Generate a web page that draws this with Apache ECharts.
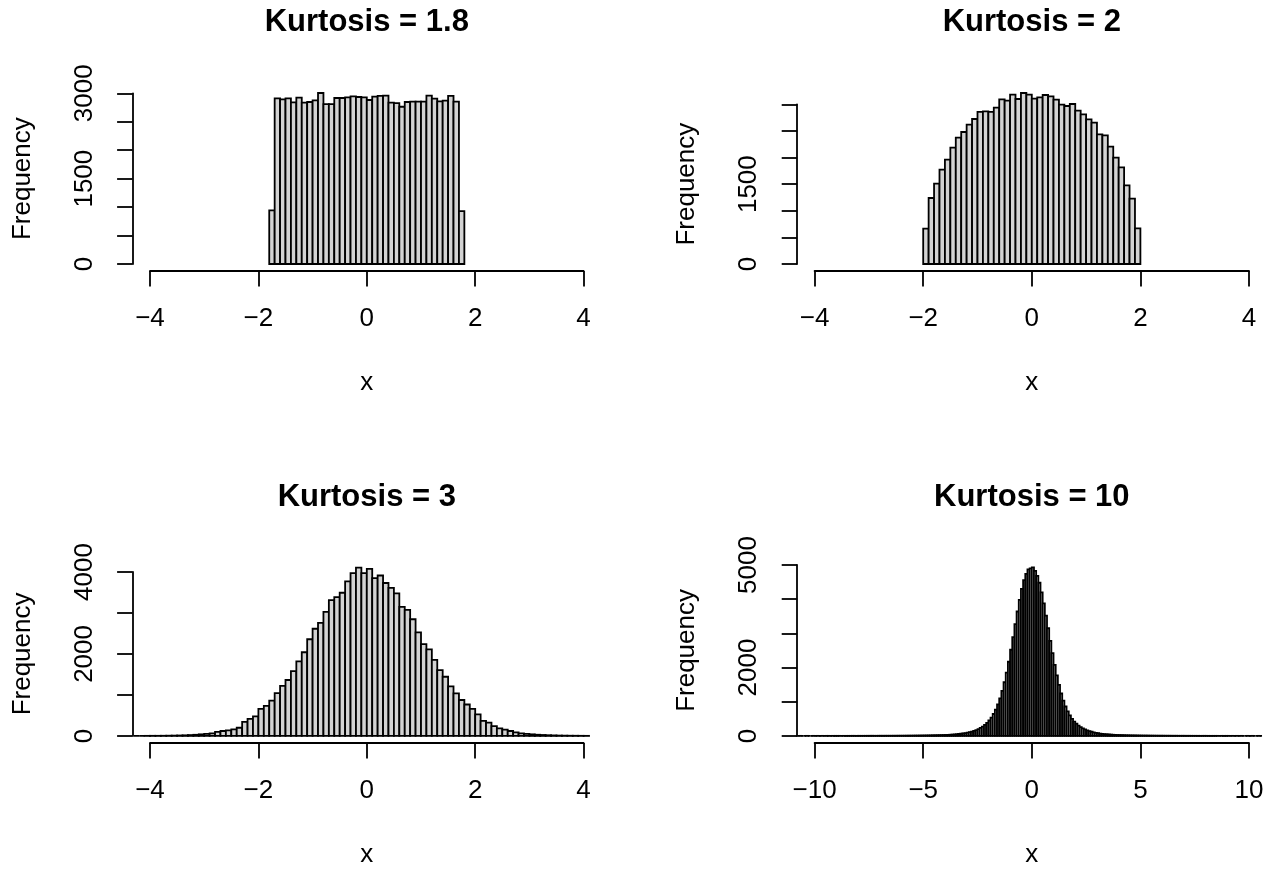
<!DOCTYPE html>
<html><head><meta charset="utf-8">
<script src="https://cdn.jsdelivr.net/npm/echarts@6/dist/echarts.min.js"></script>
<style>html,body{margin:0;padding:0;background:#fff}#c{width:1271px;height:869px}</style>
</head><body><div id="c"></div>
<script>
// ---------------- data ----------------
const titles = ['Kurtosis = 1.8', 'Kurtosis = 2', 'Kurtosis = 3', 'Kurtosis = 10'];
const binWidth = 0.1;

const p1Start = -1.8;
const p1Counts = [941, 2911, 2894, 2911, 2841, 2923, 2835, 2847, 2876, 3005, 2811, 2811, 2917, 2917, 2929, 2947, 2935, 2929,
  2882, 2941, 2953, 2958, 2835, 2829, 2764, 2847, 2852, 2852, 2852, 2958, 2905, 2858, 2870, 2953, 2852, 929];

const p2Start = -2.0;
const p2Counts = [663, 1240, 1509, 1772, 1959, 2185, 2373, 2480, 2617, 2724, 2856, 2867, 2856, 2936, 3092, 3068, 3180, 3100, 3212, 3180,
  3105, 3130, 3175, 3149, 3087, 2993, 2968, 3006, 2880, 2811, 2717, 2655, 2435, 2416, 2204, 1997, 1815, 1477, 1227, 669];

const p3Start = -4.3;
const p3Counts = [0, 0, 1, 2, 2, 3, 5, 7, 10, 14, 20, 27, 38, 48, 62, 96, 120, 134, 158, 199, 342, 414, 478, 660, 732, 861, 1043, 1220,
  1364, 1579, 1818, 2041, 2359, 2615, 2758, 3029, 3316, 3388, 3493, 3771, 3971, 4105, 3971,
  4074, 3852, 3914, 3732, 3612, 3476, 3148, 3077, 2847, 2526, 2239, 2112, 1856, 1603, 1443, 1210, 1036, 876, 766, 660, 526, 366, 325,
  239, 182, 151, 120, 86, 62, 48, 38, 28, 22, 16, 12, 8, 6, 4, 3, 2, 1];

const p4Start = -10.8;
const p4Counts = [
  0, 1, 0, 0, 1, 0, 0, 1,
  0, 1, 0, 1, 0, 1, 1, 0, 1, 1,
  1, 1, 0, 1, 1, 1, 1, 2, 1, 1,
  2, 1, 2, 2, 2, 2, 3, 2, 2, 3,
  3, 3, 3, 4, 3, 4, 4, 4, 5, 5,
  5, 6, 6, 7, 7, 8, 9, 9, 10, 11,
  12, 13, 14, 15, 17, 18, 20, 22, 23, 25,
  27, 30, 34, 38, 43, 49, 55, 63, 72, 83, 95, 109, 126, 146, 170, 198, 232, 272, 320, 380,
  450, 535, 640, 770, 920, 1100, 1320, 1570, 1850, 2170, 2520, 2890, 3270, 3640, 3980, 4300, 4560, 4740, 4870, 4900,
  4930, 4830, 4680, 4480, 4200, 3880, 3520, 3150, 2780, 2420, 2080, 1770, 1490, 1240, 1030, 860, 715, 598, 500, 420,
  356, 302, 258, 221, 190, 163, 140, 121, 105, 91, 79, 69, 61, 54, 47, 42, 37, 33, 29, 26,
  24, 22, 20, 18, 17, 15, 14, 13, 12, 11,
  10, 9, 9, 8, 7, 7, 6, 6, 5, 5,
  5, 4, 4, 4, 3, 3, 3, 3, 2, 3,
  2, 2, 2, 2, 2, 1, 2, 1, 1, 2,
  1, 1, 1, 1, 1, 1, 0, 1, 1, 1,
  1, 0, 1, 0, 1, 0, 1, 0, 0, 1,
  0, 1, 0, 0, 1, 0];

// axis ranges / ticks
const xAxes = [
  {min: -4, max: 4, interval: 2},
  {min: -4, max: 4, interval: 2},
  {min: -4, max: 4, interval: 2},
  {min: -10, max: 10, interval: 5}
];
const yAxes = [
  {min: 0, max: 3000, interval: 500},
  {min: 0, max: 3000, interval: 500},
  {min: 0, max: 4000, interval: 1000},
  {min: 0, max: 5000, interval: 1000}
];
const yLabelValues = [[0, 1500, 3000], [0, 1500], [0, 2000, 4000], [0, 2000, 5000]];

// ---------------- layout (pixels) ----------------
const W = 1271, H = 869;
const gridsPx = [
  {left: 150, right: W - 583.6, top: 93.3, bottom: H - 264.0},
  {left: 814.6, right: W - 1249.0, top: 104.3, bottom: H - 264.0},
  {left: 150, right: W - 583.6, top: 572.0, bottom: H - 739.6},
  {left: 814.6, right: W - 1249.0, top: 565.0, bottom: H - 739.6}
];
const xOffset = 7.1, yOffset = 17.4;
const FONT = '"Liberation Sans", Arial, Helvetica, sans-serif';
const LW = 1.8;

function binsOf(start, counts) {
  return counts.map((c, i) => {
    const x0 = +(start + i * binWidth).toFixed(4);
    const x1 = +(start + (i + 1) * binWidth).toFixed(4);
    return [x0, x1, c];
  });
}
const seriesData = [binsOf(p1Start, p1Counts), binsOf(p2Start, p2Counts), binsOf(p3Start, p3Counts), binsOf(p4Start, p4Counts)];

function renderHist(params, api) {
  const p0 = api.coord([api.value(0), 0]);
  const p1 = api.coord([api.value(1), api.value(2)]);
  return {
    type: 'rect',
    shape: {x: p0[0], y: p1[1], width: p1[0] - p0[0], height: p0[1] - p1[1]},
    style: {fill: '#d3d3d3', stroke: '#000', lineWidth: LW}
  };
}
const fmtNum = v => String(v).replace('-', '\u2212');

const option = {
  animation: false,
  backgroundColor: '#fff',
  title: titles.map((t, i) => ({
    text: t,
    left: (gridsPx[i].left + (W - gridsPx[i].right)) / 2,
    top: i < 2 ? 6.5 : 482,
    textAlign: 'center',
    padding: 0,
    textStyle: {fontFamily: FONT, fontSize: 31, fontWeight: 'bold', color: '#000'}
  })),
  grid: gridsPx.map(g => Object.assign({containLabel: false}, g)),
  xAxis: xAxes.map((a, i) => ({
    type: 'value', gridIndex: i, min: a.min, max: a.max, interval: a.interval,
    position: 'bottom', offset: xOffset,
    name: 'x', nameLocation: 'middle', nameGap: 99,
    nameTextStyle: {fontFamily: FONT, fontSize: 26, color: '#000'},
    axisLine: {show: true, onZero: false, lineStyle: {color: '#000', width: LW}},
    axisTick: {show: true, inside: false, length: 15.5, lineStyle: {color: '#000', width: LW}},
    axisLabel: {show: true, margin: 35, fontFamily: FONT, fontSize: 26, color: '#000', formatter: fmtNum,
      showMinLabel: true, showMaxLabel: true},
    splitLine: {show: false}
  })),
  yAxis: yAxes.map((a, i) => ({
    type: 'value', gridIndex: i, min: a.min, max: a.max, interval: a.interval,
    position: 'left', offset: yOffset,
    name: 'Frequency', nameLocation: 'middle', nameGap: 97, nameRotate: 90,
    nameTextStyle: {fontFamily: FONT, fontSize: 26, color: '#000'},
    axisLine: {show: true, onZero: false, lineStyle: {color: '#000', width: LW}},
    axisTick: {show: true, inside: false, length: 15.5, lineStyle: {color: '#000', width: LW}},
    axisLabel: {show: true, rotate: 90, margin: 35, fontFamily: FONT, fontSize: 26, color: '#000',
      showMinLabel: true, showMaxLabel: true,
      formatter: v => (yLabelValues[i].indexOf(v) >= 0 ? String(v) : '')},
    splitLine: {show: false}
  })),
  series: seriesData.map((d, i) => ({
    type: 'custom', xAxisIndex: i, yAxisIndex: i, clip: false,
    encode: {x: [0, 1], y: 2},
    renderItem: renderHist,
    data: d
  }))
};

const chart = echarts.init(document.getElementById('c'), null, {renderer: 'canvas', devicePixelRatio: 1});
chart.setOption(option);
</script>
</body></html>
